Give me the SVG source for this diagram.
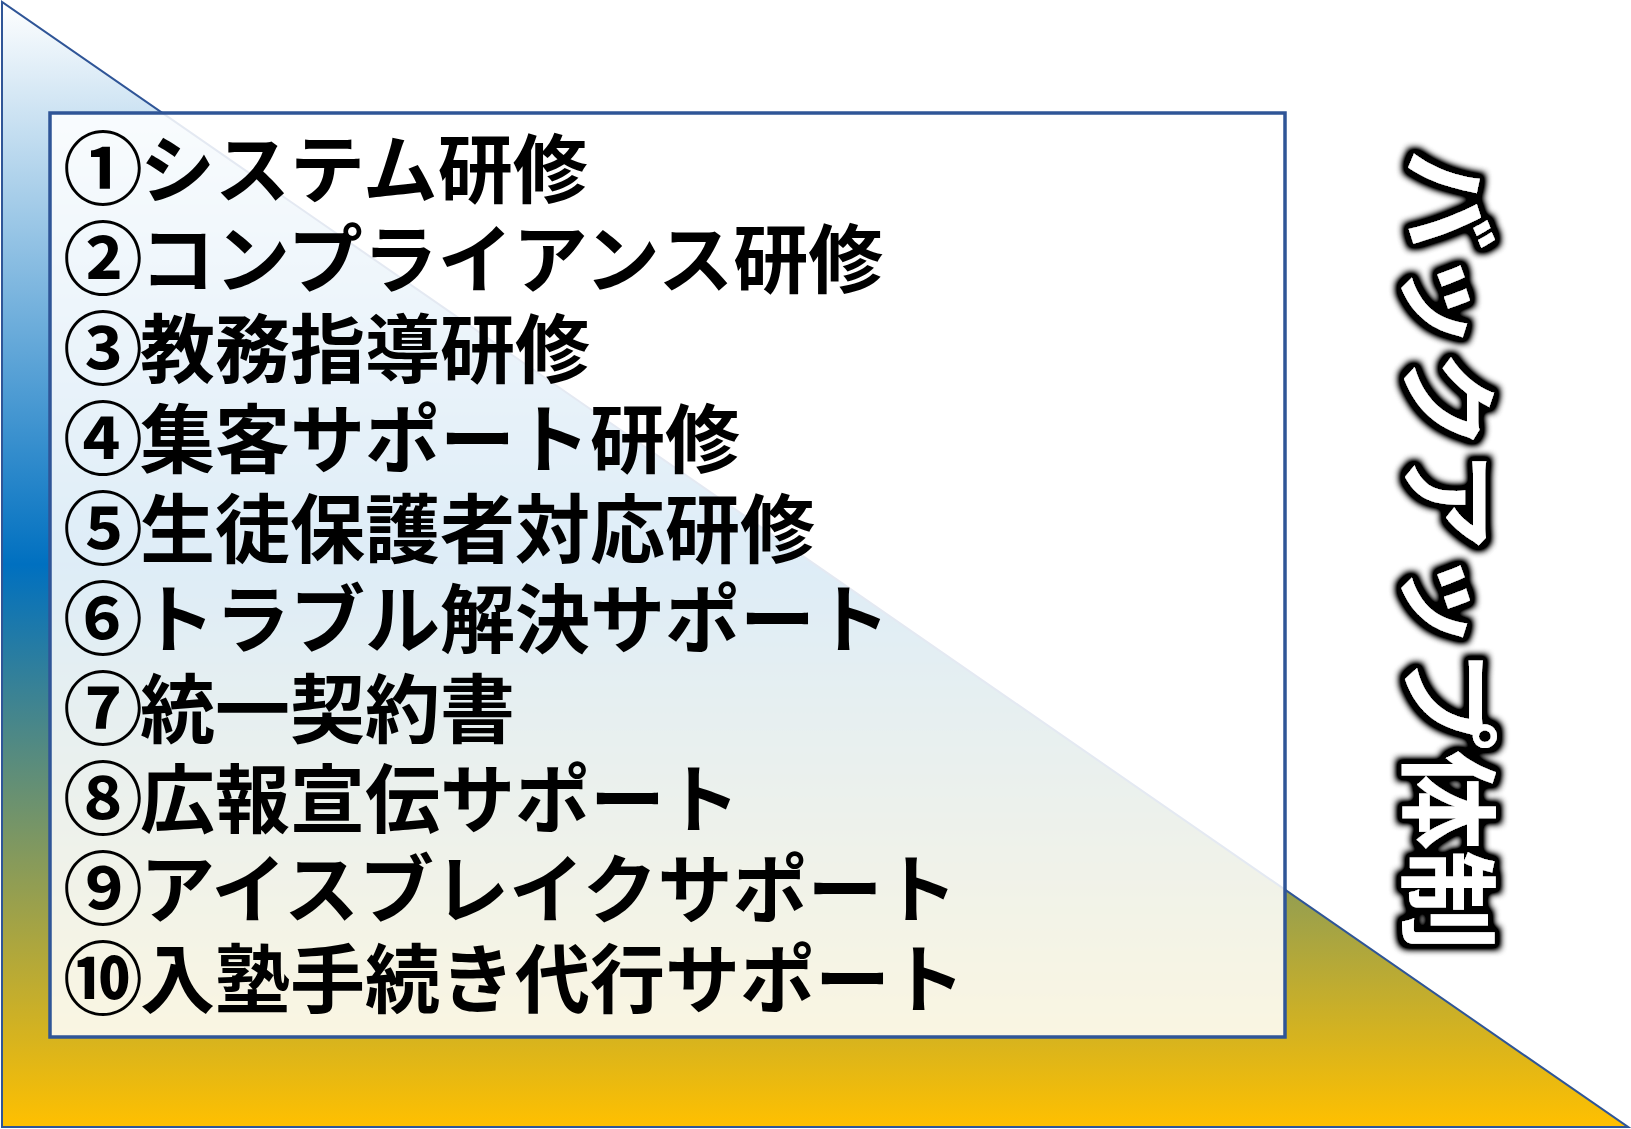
<svg xmlns="http://www.w3.org/2000/svg" width="1631" height="1129" viewBox="0 0 1631 1129">
<defs>
<linearGradient id="triGrad" x1="0" y1="2" x2="0" y2="1127" gradientUnits="userSpaceOnUse">
<stop offset="0" stop-color="#ffffff"/>
<stop offset="0.5" stop-color="#0070c0"/>
<stop offset="1" stop-color="#ffc000"/>
</linearGradient>
<filter id="glow" x="-20%" y="-5%" width="140%" height="110%">
<feMorphology in="SourceAlpha" operator="dilate" radius="5" result="d"/>
<feGaussianBlur in="d" stdDeviation="3.5" result="b"/>
<feComponentTransfer in="b" result="a"><feFuncA type="linear" slope="1.8"/></feComponentTransfer>
<feMerge><feMergeNode in="a"/><feMergeNode in="SourceGraphic"/></feMerge>
</filter>
</defs>
<style>
.item{font-family:"Noto Sans CJK JP","Noto Sans CJK SC",sans-serif;font-weight:700;font-size:75px;fill:#000}
.num{font-size:80px}
.title{font-family:"Noto Sans CJK JP","Noto Sans CJK SC",sans-serif;font-weight:700;font-size:100px;fill:#fff}
</style>
<rect width="1631" height="1129" fill="#ffffff"/>
<g id="triangle">
<polygon points="2,2 2,1127 1628,1127" fill="url(#triGrad)" stroke="#2f5597" stroke-width="2" stroke-linejoin="miter"/>
</g>
<g id="list-box">
<rect x="50" y="113" width="1235" height="924" fill="#ffffff" fill-opacity="0.87" stroke="#2f5597" stroke-width="3.5"/>
<text class="item" x="63" y="197"><tspan class="num" dy="1">①</tspan><tspan x="140" dy="-1">システム研修</tspan></text>
<text class="item" x="63" y="287"><tspan class="num" dy="1">②</tspan><tspan x="140" dy="-1">コンプライアンス研修</tspan></text>
<text class="item" x="63" y="377"><tspan class="num" dy="1">③</tspan><tspan x="140" dy="-1">教務指導研修</tspan></text>
<text class="item" x="63" y="467"><tspan class="num" dy="1">④</tspan><tspan x="140" dy="-1">集客サポート研修</tspan></text>
<text class="item" x="63" y="557"><tspan class="num" dy="1">⑤</tspan><tspan x="140" dy="-1">生徒保護者対応研修</tspan></text>
<text class="item" x="63" y="647"><tspan class="num" dy="1">⑥</tspan><tspan x="140" dy="-1">トラブル解決サポート</tspan></text>
<text class="item" x="63" y="737"><tspan class="num" dy="1">⑦</tspan><tspan x="140" dy="-1">統一契約書</tspan></text>
<text class="item" x="63" y="827"><tspan class="num" dy="1">⑧</tspan><tspan x="140" dy="-1">広報宣伝サポート</tspan></text>
<text class="item" x="63" y="917"><tspan class="num" dy="1">⑨</tspan><tspan x="140" dy="-1">アイスブレイクサポート</tspan></text>
<text class="item" x="63" y="1007"><tspan class="num" dy="1">⑩</tspan><tspan x="140" dy="-1">入塾手続き代行サポート</tspan></text>
</g>
<g id="title" filter="url(#glow)">
<text class="title" transform="translate(1411,150) rotate(90)" x="0" y="0">バックアップ体制</text>
</g>
<g id="connectors"></g>
</svg>
